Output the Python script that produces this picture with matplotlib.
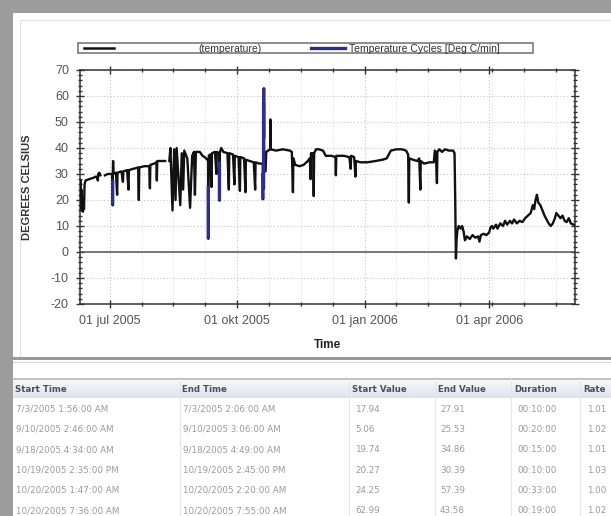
import matplotlib

matplotlib.use("Agg")
import matplotlib.dates as mdates
import matplotlib.pyplot as plt
import pandas as pd
from matplotlib.lines import Line2D
from matplotlib.patches import Rectangle
from matplotlib.ticker import AutoMinorLocator, FuncFormatter, MultipleLocator

plt.rcParams["axes.unicode_minus"] = False

BASE_DATE = pd.Timestamp("2005-07-01")
DUTCH_MONTHS = ["jan", "feb", "mrt", "apr", "mei", "jun", "jul", "aug", "sep", "okt", "nov", "dec"]

# temperature log: days after 01 jul 2005 / degrees C (nan = gap in the log)
TEMP_DAYS = [
    -21.0, -20.8, -20.5, -20.2, -19.8, -19.4, -19.0, -18.6, -18.2, -17.5, -15.0, -12.0, -10.0,
    -9.0, -8.6, -8.4, -7.5, -6.8, -5.5,
    -3.5, -1.5, 0.5, 1.9, 2.08, 2.09, 2.4, 2.7, 4.5, 5.3, 5.6, 8.5, 9.5, 9.8, 12.5, 13.5, 13.8,
    17.0, 20.5, 21.0, 21.3, 25.0, 28.5, 29.0, 29.3, 32.0, 33.7, 34.0, 34.3, 37.0, 40.0, 41.5,
    43.0, 43.8, 45.3, 46.5, 47.5, 48.3, 50.9, 52.0, 53.0, 53.8, 56.0, 58.0, 59.5, 60.8, 61.5,
    62.2, 65.0, 67.0, 68.5, 70.5,
    71.0, 71.12, 71.13, 71.5, 72.5, 73.5, 73.8, 76.0, 77.0, 77.3,
    79.1, 79.19, 79.2, 79.6, 80.5, 82.0, 85.0, 86.0, 86.3, 89.0, 90.0, 90.3, 93.0, 94.0, 94.3,
    97.0, 98.0, 98.3, 101.0, 104.0, 105.0, 105.3, 108.0, 110.5,
    110.61, 110.62, 111.07, 111.1, 111.3, 111.33, 111.6, 112.5, 113.0, 115.8, 116.0, 116.2,
    120.0, 125.0, 130.0, 131.5, 132.3, 132.6, 134.0, 137.0, 140.0, 143.0, 144.5, 145.0, 145.3,
    147.0, 147.3, 147.6, 149.0, 151.0, 154.0, 156.0, 160.0, 163.0, 163.3, 163.6, 169.0, 173.0,
    174.0, 174.3, 176.5, 177.4, 177.8, 181.0, 186.0, 192.0, 197.0, 200.0, 203.0, 207.0, 211.0,
    214.0, 215.5, 216.0, 216.3, 219.0, 222.0, 223.5, 224.3, 224.6, 227.0, 231.0, 234.0, 234.8,
    235.5, 236.3, 236.6, 238.0, 240.0, 242.0, 245.0, 248.0, 249.0, 249.5, 250.0, 250.5, 251.0,
    252.0, 253.5, 254.5, 255.5, 256.5, 258.0, 260.0, 262.0, 264.0, 266.0, 267.0, 268.0, 270.0,
    272.0, 274.0, 275.0, 276.0, 277.0, 279.0, 280.0, 282.0, 284.0, 285.5, 287.0, 289.0, 290.5,
    292.0, 294.0, 296.0, 298.0, 300.0, 302.0, 304.0, 305.5, 306.5, 307.5, 308.5, 309.5, 311.0,
    312.5, 314.0, 315.5, 317.0, 318.5, 320.0, 321.5, 322.5, 324.0, 325.5, 327.0, 328.5, 330.0,
    331.5, 333.0, 335.0,
]
TEMP_VALUES = [
    27.5, 17.0, 24.0, 16.0, 21.0, 15.5, 19.0, 16.5, 26.0, 27.5, 28.0, 28.5, 29.0,
    28.5, 27.5, 30.0, 30.5, 29.5, float("nan"),
    29.5, 30.0, 30.0, 30.0, 17.94, 27.91, 35.0, 30.0, 30.5, 22.0, 30.5, 31.0, 27.0, 31.0, 31.5, 24.0, 31.5,
    32.0, 32.5, 20.0, 32.5, 33.0, 33.0, 24.5, 33.5, 34.0, 34.5, 27.5, 35.0, 35.0, 35.0, float("nan"),
    35.0, 40.0, 16.0, 39.5, 20.0, 40.0, 18.0, 38.0, 24.0, 39.0, 36.0, 17.0, 37.0, 38.5, 22.0,
    38.5, 38.5, 37.0, 36.5, 35.5,
    35.0, 5.06, 25.53, 37.0, 37.5, 25.0, 38.0, 38.5, 30.0, 38.5,
    38.0, 19.74, 34.86, 38.5, 40.0, 38.5, 38.0, 24.0, 38.0, 37.5, 26.0, 37.0, 36.5, 23.5, 36.5,
    36.0, 23.0, 35.5, 35.0, 34.5, 24.0, 34.5, 34.0, 34.0,
    20.27, 30.39, 24.25, 57.39, 62.99, 43.58, 31.0, 31.0, 38.5, 39.5, 51.0, 39.5,
    39.0, 39.5, 39.0, 38.5, 23.0, 36.0, 33.5, 33.0, 33.5, 35.0, 36.0, 28.0, 38.0,
    38.0, 21.5, 38.0, 39.5, 39.5, 39.0, 37.0, 37.0, 36.5, 29.5, 37.0, 37.0, 36.5,
    32.0, 37.0, 36.5, 29.0, 35.0, 34.5, 34.5, 35.0, 35.5, 36.0, 39.0, 39.5, 39.5,
    39.0, 37.5, 19.0, 36.0, 35.5, 35.0, 36.0, 24.0, 35.0, 34.0, 34.5, 34.5, 39.0,
    38.5, 26.5, 38.5, 39.5, 38.5, 39.5, 39.0, 39.0, 38.0, 20.0, -2.5, 5.0, 8.0,
    10.0, 9.0, 10.0, 8.0, 4.5, 6.0, 5.0, 6.5, 5.5, 6.0, 4.0, 6.5, 7.0,
    6.5, 7.5, 9.5, 10.0, 9.0, 10.5, 9.0, 11.0, 10.0, 12.0, 10.5, 12.0, 11.0,
    12.5, 11.0, 12.0, 11.5, 13.0, 14.0, 15.0, 18.0, 16.5, 20.0, 22.0, 19.0, 18.0,
    16.0, 14.0, 12.5, 11.0, 10.0, 11.0, 13.0, 15.0, 14.0, 13.0, 14.0, 12.0, 11.5,
    13.0, 11.0, 10.5,
]

# detected temperature cycles (table under the chart)
CYCLE_START = [
    "7/3/2005 1:56:00 AM", "9/10/2005 2:46:00 AM", "9/18/2005 4:34:00 AM",
    "10/19/2005 2:35:00 PM", "10/20/2005 1:47:00 AM", "10/20/2005 7:36:00 AM",
]
CYCLE_END = [
    "7/3/2005 2:06:00 AM", "9/10/2005 3:06:00 AM", "9/18/2005 4:49:00 AM",
    "10/19/2005 2:45:00 PM", "10/20/2005 2:20:00 AM", "10/20/2005 7:55:00 AM",
]
CYCLE_START_VALUE = [17.94, 5.06, 19.74, 20.27, 24.25, 62.99]
CYCLE_END_VALUE = [27.91, 25.53, 34.86, 30.39, 57.39, 43.58]
CYCLE_DURATION = ["00:10:00", "00:20:00", "00:15:00", "00:10:00", "00:33:00", "00:19:00"]
CYCLE_RATE = [1.01, 1.02, 1.01, 1.03, 1.00, 1.02]

TABLE_HEADERS = ["Start Time", "End Time", "Start Value", "End Value", "Duration", "Rate"]

TEMP_COLOR = "#111111"
CYCLE_COLOR = "#2b2f8f"
CHART_FONT = "Liberation Sans"
TABLE_FONT = "DejaVu Sans"

W, H = 611, 516


def dutch_date(x, pos):
    d = mdates.num2date(x)
    return f"{d.day:02d} {DUTCH_MONTHS[d.month - 1]} {d.year}"


def draw_page(page):
    # grey frame of the screenshot and the white panels
    page.add_patch(Rectangle((13, 13), W, H, facecolor="white", edgecolor="none"))
    page.add_patch(Rectangle((20, 20), W, 338, facecolor="none", edgecolor="#e2e2e2", lw=0.8))
    page.plot([13, W], [358, 358], color="#9a9a9a", lw=2.2)
    page.plot([13, W], [361.5, 361.5], color="#d6d6d6", lw=0.8)

    # legend strip above the plot
    page.add_patch(Rectangle((78, 43), 455, 10, facecolor="white", edgecolor="#7a7a7a", lw=1.2))
    page.add_line(Line2D([84, 114], [48, 48], color=TEMP_COLOR, lw=1.8))
    page.text(262, 48.5, "(temperature)", ha="right", va="center", fontsize=7.5,
              family=CHART_FONT, color="#333333")
    page.add_line(Line2D([311, 345], [48, 48], color=CYCLE_COLOR, lw=2.4))
    page.text(349, 48.5, "Temperature Cycles [Deg C/min]", ha="left", va="center", fontsize=7.5,
              family=CHART_FONT, color="#333333")


def draw_table(page):
    col_x = [15, 182, 352, 438, 514, 583]
    sep_x = [180, 349, 435, 511, 580]
    header_top, header_bottom = 379, 398
    row_h = 20.3

    # header band with a soft gradient
    n_steps = 12
    for i in range(n_steps):
        t = i / (n_steps - 1)
        shade = (0.965 - 0.09 * t, 0.972 - 0.08 * t, 0.985 - 0.06 * t)
        y0 = header_top + (header_bottom - header_top) * i / n_steps
        page.add_patch(Rectangle((13, y0), W, (header_bottom - header_top) / n_steps + 0.3,
                                 facecolor=shade, edgecolor="none"))
    page.plot([13, W], [header_top, header_top], color="#b5b5b5", lw=1.2)
    for sx in sep_x:
        page.plot([sx, sx], [header_top, H], color="#e4e6ea", lw=0.8)

    for x, label in zip(col_x, TABLE_HEADERS):
        page.text(x, (header_top + header_bottom) / 2 + 0.5, label, ha="left", va="center",
                  fontsize=6.2, fontweight="bold", family=TABLE_FONT, color="#4a4f5a")

    rows = zip(CYCLE_START, CYCLE_END, CYCLE_START_VALUE, CYCLE_END_VALUE, CYCLE_DURATION, CYCLE_RATE)
    for i, (st, et, sv, ev, dur, rate) in enumerate(rows):
        y = header_bottom + row_h * (i + 0.55)
        cells = [st, et, f"{sv:.2f}", f"{ev:.2f}", dur, f"{rate:.2f}"]
        offsets = [1, 1, 3, 2, 3, 4]
        for x, off, cell in zip(col_x, offsets, cells):
            page.text(x + off, y, cell, ha="left", va="center", fontsize=6.3,
                      family=TABLE_FONT, color="#9a9a9a")


def draw_chart(ax):
    temp_time = BASE_DATE + pd.to_timedelta(TEMP_DAYS, unit="D")
    ax.axhline(0, color="#555555", lw=1.1, zorder=2)
    ax.plot(temp_time, TEMP_VALUES, color=TEMP_COLOR, lw=1.7, zorder=3)

    fmt = "%m/%d/%Y %I:%M:%S %p"
    starts = pd.to_datetime(CYCLE_START, format=fmt)
    ends = pd.to_datetime(CYCLE_END, format=fmt)
    for s, e, sv, ev in zip(starts, ends, CYCLE_START_VALUE, CYCLE_END_VALUE):
        ax.plot([s, e], [sv, ev], color=CYCLE_COLOR, lw=2.4, solid_capstyle="butt", zorder=4)

    ax.set_xlim(pd.Timestamp("2005-06-09 12:00"), pd.Timestamp("2006-06-02"))
    ax.set_ylim(-20, 70)
    ax.yaxis.set_major_locator(MultipleLocator(10))
    ax.yaxis.set_minor_locator(AutoMinorLocator(5))
    ax.xaxis.set_major_locator(mdates.MonthLocator(bymonth=[1, 4, 7, 10]))
    ax.xaxis.set_minor_locator(AutoMinorLocator(4))
    ax.xaxis.set_major_formatter(FuncFormatter(dutch_date))

    ax.grid(True, which="major", color="#c4c4c4", linestyle=(0, (1, 2)), lw=0.8)
    ax.grid(True, which="minor", axis="x", color="#dedede", linestyle=(0, (1, 2)), lw=0.7)
    ax.tick_params(which="both", direction="inout", top=True, right=True, color="#333333",
                   labelsize=9, labelcolor="#555555", width=1)
    ax.tick_params(which="major", length=6, pad=5)
    ax.tick_params(which="minor", length=3.5)
    for label in ax.get_xticklabels() + ax.get_yticklabels():
        label.set_family(CHART_FONT)
    for spine in ax.spines.values():
        spine.set_color("#333333")
        spine.set_linewidth(1.1)

    ax.set_xlabel("Time", fontsize=8.5, fontweight="bold", family=CHART_FONT, color="#222222")
    ax.xaxis.set_label_coords(0.5, -0.148)
    ax.set_ylabel("DEGREES CELSIUS", fontsize=8, fontweight="bold", family=CHART_FONT, color="#333333")
    ax.yaxis.set_label_coords(-0.097, 0.5)


def main():
    fig = plt.figure(figsize=(W / 100, H / 100), dpi=100, facecolor="#9c9c9c")

    page = fig.add_axes([0, 0, 1, 1], zorder=0)
    page.set_xlim(0, W)
    page.set_ylim(H, 0)
    page.axis("off")
    draw_page(page)
    draw_table(page)

    ax = fig.add_axes([80 / W, 1 - 304 / H, 495 / W, 234 / H], zorder=1)
    draw_chart(ax)

    fig.savefig("out.png", dpi=100, facecolor=fig.get_facecolor())


if __name__ == "__main__":
    main()
